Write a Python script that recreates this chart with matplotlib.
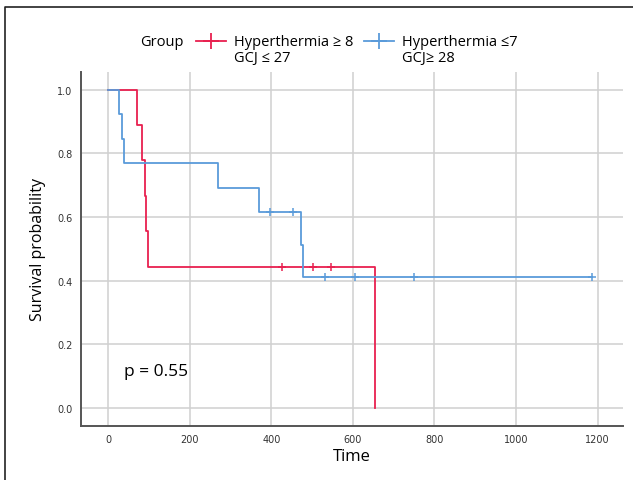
import numpy as np
import matplotlib.pyplot as plt
from matplotlib.lines import Line2D

# ── data ──
red_times = [72, 83, 90, 92, 99, 426, 502, 547, 654]
red_events = [1, 1, 1, 1, 1, 0, 0, 0, 1]
blue_times = [28, 33, 38, 270, 369, 396, 454, 472, 479, 531, 606, 751, 1187]
blue_events = [1, 1, 1, 1, 1, 0, 0, 1, 1, 0, 0, 0, 0]

red_label = "Hyperthermia \u2265 8\nGCJ \u2264 27"
blue_label = "Hyperthermia \u22647\nGCJ\u2265 28"
p_text = "p = 0.55"

x_ticks = [0, 200, 400, 600, 800, 1000, 1200]
y_ticks = [0.0, 0.2, 0.4, 0.6, 0.8, 1.0]

RED = "#E8204F"
BLUE = "#5A9BDA"
GRID = "#D0D0D0"
FONT = ["Open Sans", "DejaVu Sans"]


def km_curve(times, events):
    """step coordinates and censor points of a Kaplan-Meier estimate"""
    times = np.asarray(times, float)
    events = np.asarray(events)
    order = np.argsort(times)
    times, events = times[order], events[order]
    n = len(times)
    s = 1.0
    xs, ys = [0.0], [1.0]
    cx, cy = [], []
    for i, (t, e) in enumerate(zip(times, events)):
        at_risk = n - i
        if e:
            xs.append(t)
            ys.append(s)
            s = s * (at_risk - 1) / at_risk
            xs.append(t)
            ys.append(s)
        else:
            cx.append(t)
            cy.append(s)
    if xs[-1] < times[-1]:
        xs.append(times[-1])
        ys.append(s)
    return xs, ys, cx, cy


W, H = 633, 481
fig = plt.figure(figsize=(W / 100, H / 100), dpi=100)
ax = fig.add_axes([80.7 / W, 1 - 427 / H, (623 - 80.7) / W, (427 - 73) / H])

for times, events, col in [(red_times, red_events, RED),
                           (blue_times, blue_events, BLUE)]:
    xs, ys, cx, cy = km_curve(times, events)
    ax.plot(xs, ys, color=col, lw=1.3, zorder=3)
    ax.plot(cx, cy, ls="none", marker="+", ms=6, mew=1.1, color=col, zorder=4)

ax.set_xlim(-67, 1262)
ax.set_ylim(-0.057, 1.056)
ax.set_xticks(x_ticks)
ax.set_yticks(y_ticks)
ax.set_xticklabels([str(v) for v in x_ticks], fontsize=7, color="#333333")
ax.set_yticklabels([f"{v:.1f}" for v in y_ticks], fontsize=7, color="#333333")
ax.tick_params(length=0, pad=6)
ax.grid(True, color=GRID, lw=1.1)
ax.set_axisbelow(True)
for side in ["top", "right"]:
    ax.spines[side].set_visible(False)
for side in ["left", "bottom"]:
    ax.spines[side].set_color("#555555")
    ax.spines[side].set_linewidth(1.4)

ax.set_xlabel("Time", fontsize=12, family=FONT, labelpad=3)
ax.set_ylabel("Survival probability", fontsize=11.5, family=FONT, labelpad=8)
ax.text(40, 0.115, p_text, fontsize=12.5, family=FONT, va="center")

# ── legend, drawn by hand so handle sits on the first line ──
def fx(px):
    return px / W


def fy(py):
    return 1 - py / H


fig.text(fx(140), fy(42), "Group", fontsize=10.5, family=FONT, va="center")
for x0, col, lab in [(196, RED, red_label), (364, BLUE, blue_label)]:
    fig.add_artist(Line2D([fx(x0), fx(x0 + 30)], [fy(42), fy(42)],
                          color=col, lw=1.3, transform=fig.transFigure))
    fig.add_artist(Line2D([fx(x0 + 15)], [fy(42)], marker="+", ms=11,
                          mew=1.3, color=col, transform=fig.transFigure))
    fig.text(fx(x0 + 38), fy(42), lab.split("\n")[0], fontsize=10.5,
             family=FONT, va="center")
    fig.text(fx(x0 + 38), fy(58.5), lab.split("\n")[1], fontsize=10.5,
             family=FONT, va="center")

# outer frame
fig.add_artist(Line2D([fx(5), fx(5), fx(W)], [0, fy(8), fy(8)],
                      color="#222222", lw=1.2, transform=fig.transFigure))

fig.savefig("out.png", dpi=100)
